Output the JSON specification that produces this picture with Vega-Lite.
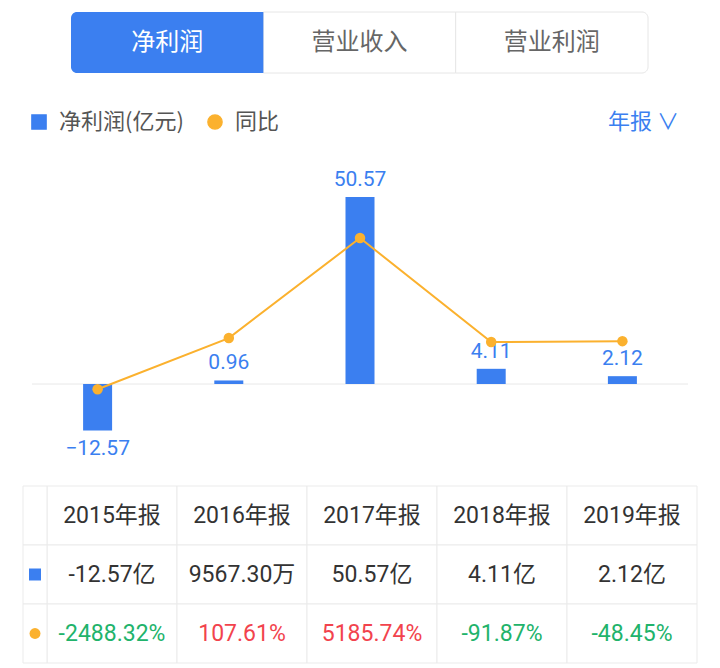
{
  "$schema": "https://vega.github.io/schema/vega-lite/v6.json",
  "padding": 0,
  "spacing": 0,
  "bounds": "flush",
  "center": true,
  "background": "white",
  "config": {"view": {"stroke": null}, "font": "Noto Sans CJK SC"},
  "datasets": {
    "main": [
      {"year": "2015年报", "value": -12.57, "valueText": "-12.57亿", "yoy": -2488.32, "yoyText": "-2488.32%"},
      {"year": "2016年报", "value": 0.9567, "valueText": "9567.30万", "yoy": 107.61, "yoyText": "107.61%"},
      {"year": "2017年报", "value": 50.57, "valueText": "50.57亿", "yoy": 5185.74, "yoyText": "5185.74%"},
      {"year": "2018年报", "value": 4.11, "valueText": "4.11亿", "yoy": -91.87, "yoyText": "-91.87%"},
      {"year": "2019年报", "value": 2.12, "valueText": "2.12亿", "yoy": -48.45, "yoyText": "-48.45%"}
    ],
    "tabs": [{"tab": "净利润"}, {"tab": "营业收入"}, {"tab": "营业利润"}],
    "keys": [{"row": "h", "series": ""}, {"row": "v", "series": "净利润(亿元)"}, {"row": "y", "series": "同比"}]
  },
  "resolve": {"scale": {"color": "independent", "x": "independent", "y": "independent"}},
  "vconcat": [
    {
      "width": 720,
      "height": 85,
      "data": {"name": "tabs"},
      "encoding": {
        "x": {"field": "tab", "type": "nominal", "axis": null, "scale": {"type": "band", "domain": ["净利润", "营业收入", "营业利润"], "range": [71, 648], "paddingInner": 0, "paddingOuter": 0}},
        "y": {"datum": "t", "type": "nominal", "axis": null, "scale": {"type": "band", "domain": ["t"], "range": [12, 73], "paddingInner": 0, "paddingOuter": 0}}
      },
      "layer": [
        {"transform": [{"filter": "datum.tab === '营业收入'"}], "mark": {"type": "rect", "fill": "white", "stroke": "#e6e6e6", "strokeWidth": 1}},
        {"transform": [{"filter": "datum.tab === '营业利润'"}], "mark": {"type": "rect", "fill": "white", "stroke": "#e6e6e6", "strokeWidth": 1, "cornerRadiusTopRight": 6, "cornerRadiusBottomRight": 6}},
        {"transform": [{"filter": "datum.tab === '净利润'"}], "mark": {"type": "rect", "fill": "#3b7ff0", "cornerRadiusTopLeft": 6, "cornerRadiusBottomLeft": 6}},
        {
          "mark": {"type": "text", "fontSize": 24, "font": "Noto Sans CJK SC"},
          "encoding": {
            "text": {"field": "tab"},
            "color": {"condition": {"test": "datum.tab === '净利润'", "value": "white"}, "value": "#666666"}
          }
        }
      ]
    },
    {
      "width": 656,
      "height": 401,
      "data": {"name": "main"},
      "title": {"text": "年报  ∨", "anchor": "end", "orient": "top", "frame": "group", "offset": 0, "dy": 59, "dx": -9, "baseline": "middle", "fontSize": 22, "fontWeight": "normal", "color": "#3b7ff0", "font": "Noto Sans CJK SC"},
      "resolve": {"scale": {"y": "independent"}},
      "layer": [
        {
          "encoding": {
            "x": {"field": "year", "type": "nominal", "sort": null, "axis": null, "scale": {"type": "band", "paddingInner": 0, "paddingOuter": 0}}
          },
          "layer": [
            {
              "transform": [{"aggregate": [{"op": "count", "as": "n"}]}],
              "mark": {"type": "rule", "color": "#e8e8e8", "strokeWidth": 1},
              "encoding": {
                "x": null,
                "y": {"datum": 0, "type": "quantitative", "axis": null, "scale": {"domain": [-27.58, 80.86], "nice": false, "zero": false}}
              }
            },
            {
              "mark": {"type": "bar", "width": 29},
              "encoding": {
                "y": {"field": "value", "type": "quantitative", "axis": null, "scale": {"domain": [-27.58, 80.86], "nice": false, "zero": false}},
                "y2": {"datum": 0},
                "color": {
                  "datum": "净利润(亿元)",
                  "type": "nominal",
                  "scale": {"domain": ["净利润(亿元)", "同比"], "range": ["#3b7ff0", "#fbb12e"]},
                  "legend": {
                    "orient": "none",
                    "legendX": -4,
                    "legendY": 26,
                    "direction": "horizontal",
                    "title": null,
                    "labelFontSize": 22,
                    "labelColor": "#555555",
                    "labelFont": "Noto Sans CJK SC",
                    "symbolSize": 200,
                    "labelOffset": 9,
                    "columnPadding": 20,
                    "padding": 0,
                    "encode": {
                      "symbols": {
                        "update": {
                          "shape": {"signal": "datum.value === '同比' ? 'circle' : 'square'"},
                          "fill": {"signal": "datum.value === '同比' ? '#fbb12e' : '#3b7ff0'"},
                          "stroke": {"value": "transparent"},
                          "opacity": {"value": 1}
                        }
                      }
                    }
                  }
                }
              }
            },
            {
              "transform": [{"filter": "datum.value >= 0"}],
              "mark": {"type": "text", "fontSize": 21, "font": "Roboto", "color": "#3b7ff0", "baseline": "middle", "dy": -17},
              "encoding": {
                "y": {"field": "value", "type": "quantitative"},
                "text": {"field": "value", "type": "quantitative", "format": ".2f"}
              }
            },
            {
              "transform": [{"filter": "datum.value < 0"}],
              "mark": {"type": "text", "fontSize": 21, "font": "Roboto", "color": "#3b7ff0", "baseline": "middle", "dy": 19},
              "encoding": {
                "y": {"field": "value", "type": "quantitative"},
                "text": {"field": "value", "type": "quantitative", "format": ".2f"}
              }
            }
          ]
        },
        {
          "mark": {"type": "line", "strokeWidth": 2, "point": {"filled": true, "size": 110}},
          "encoding": {
            "x": {"field": "year", "type": "nominal", "sort": null, "axis": null, "scale": {"type": "band", "paddingInner": 0, "paddingOuter": 0}},
            "y": {"field": "yoy", "type": "quantitative", "axis": null, "scale": {"domain": [-7401, 12954], "nice": false, "zero": false}},
            "color": {"datum": "同比", "type": "nominal"}
          }
        }
      ]
    },
    {
      "width": 720,
      "height": 182,
      "data": {"name": "main"},
      "resolve": {"scale": {"x": "independent"}},
      "encoding": {
        "y": {"field": "row", "type": "nominal", "axis": null, "scale": {"type": "band", "domain": ["h", "v", "y"], "range": [0, 177], "paddingInner": 0, "paddingOuter": 0}}
      },
      "layer": [
        {
          "encoding": {
            "x": {"field": "year", "type": "nominal", "sort": null, "axis": null, "scale": {"type": "band", "range": [47, 697], "paddingInner": 0, "paddingOuter": 0}}
          },
          "layer": [
            {"mark": {"type": "rect", "fill": "white", "stroke": "#ebebeb", "strokeWidth": 1}, "encoding": {"y": {"datum": "h", "type": "nominal"}}},
            {"mark": {"type": "rect", "fill": "white", "stroke": "#ebebeb", "strokeWidth": 1}, "encoding": {"y": {"datum": "v", "type": "nominal"}}},
            {"mark": {"type": "rect", "fill": "white", "stroke": "#ebebeb", "strokeWidth": 1}, "encoding": {"y": {"datum": "y", "type": "nominal"}}},
            {"mark": {"type": "text", "fontSize": 23, "font": "Roboto, Noto Sans CJK SC", "color": "#333333"}, "encoding": {"y": {"datum": "h", "type": "nominal"}, "text": {"field": "year"}}},
            {"mark": {"type": "text", "fontSize": 23, "font": "Roboto, Noto Sans CJK SC", "color": "#333333"}, "encoding": {"y": {"datum": "v", "type": "nominal"}, "text": {"field": "valueText"}}},
            {
              "mark": {"type": "text", "fontSize": 23, "font": "Roboto, Noto Sans CJK SC"},
              "encoding": {
                "y": {"datum": "y", "type": "nominal"},
                "text": {"field": "yoyText"},
                "color": {"condition": {"test": "datum.yoy < 0", "value": "#21b36b"}, "value": "#f2434d"}
              }
            }
          ]
        },
        {
          "data": {"name": "keys"},
          "encoding": {
            "x": {"datum": "s", "type": "nominal", "axis": null, "scale": {"type": "band", "domain": ["s"], "range": [23, 47], "paddingInner": 0, "paddingOuter": 0}}
          },
          "layer": [
            {"mark": {"type": "rect", "fill": "white", "stroke": "#ebebeb", "strokeWidth": 1}, "encoding": {"y": {"field": "row", "type": "nominal"}}},
            {"transform": [{"filter": "datum.row === 'v'"}], "mark": {"type": "point", "shape": "square", "filled": true, "size": 144, "color": "#3b7ff0", "opacity": 1}, "encoding": {"y": {"field": "row", "type": "nominal"}}},
            {"transform": [{"filter": "datum.row === 'y'"}], "mark": {"type": "point", "shape": "circle", "filled": true, "size": 120, "color": "#fbb12e", "opacity": 1}, "encoding": {"y": {"field": "row", "type": "nominal"}}}
          ]
        }
      ]
    }
  ]
}
